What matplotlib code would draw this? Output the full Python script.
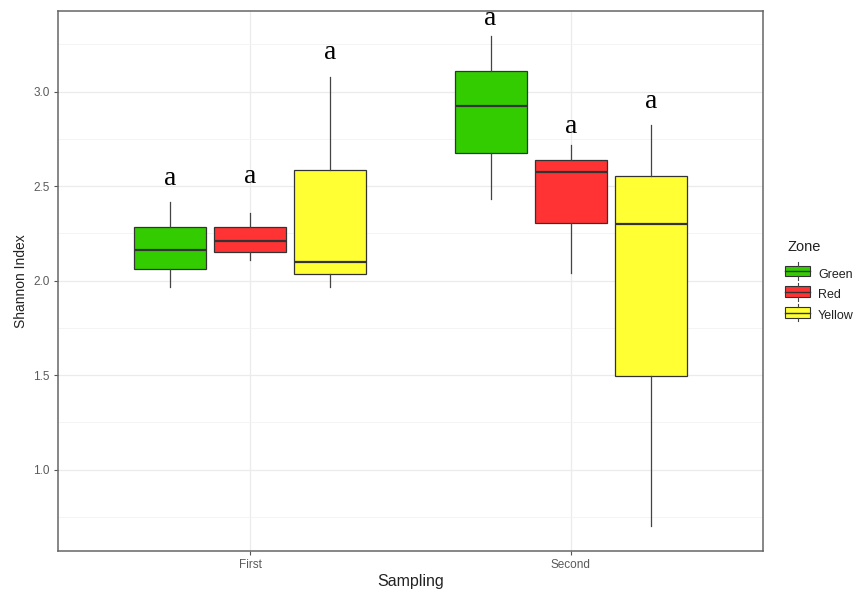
import matplotlib.pyplot as plt
from matplotlib.legend_handler import HandlerBase
from matplotlib.patches import Rectangle
from matplotlib.lines import Line2D

# box statistics read per sampling x zone
samplings = ["First", "Second"]
zones = ["Green", "Red", "Yellow"]
zone_colors = ["#33CC00", "#FF3333", "#FFFF33"]

whislo = [[1.968, 2.110, 1.968], [2.432, 2.039, 0.700]]
q1 = [[2.060, 2.153, 2.035], [2.677, 2.305, 1.496]]
med = [[2.162, 2.212, 2.100], [2.923, 2.575, 2.300]]
q3 = [[2.286, 2.283, 2.586], [3.110, 2.640, 2.556]]
whishi = [[2.415, 2.360, 3.076], [3.295, 2.718, 2.822]]

# significance letters and their heights
letters = [["a", "a", "a"], ["a", "a", "a"]]
letter_y = [[2.543, 2.554, 3.205], [3.385, 2.815, 2.947]]

plt.rcParams['font.family'] = ['Liberation Sans', 'DejaVu Sans']

fig = plt.figure(figsize=(8.64, 5.89), dpi=100)
ax = fig.add_axes([0.0671, 0.0645, 0.8160, 0.9168])

dodge = 0.25
width = 0.225
edge = "#333333"

for i, s in enumerate(samplings):
    for j, z in enumerate(zones):
        pos = i + (j - 1) * dodge
        stats = [{
            "med": med[i][j], "q1": q1[i][j], "q3": q3[i][j],
            "whislo": whislo[i][j], "whishi": whishi[i][j], "fliers": [],
        }]
        ax.bxp(stats, positions=[pos], widths=width, patch_artist=True,
               showcaps=False, manage_ticks=False,
               boxprops=dict(facecolor=zone_colors[j], edgecolor=edge, linewidth=0.9),
               whiskerprops=dict(color="#444444", linewidth=0.9),
               medianprops=dict(color="#333333", linewidth=1.6),
               zorder=3)
        ax.text(pos, letter_y[i][j], letters[i][j], ha="center", va="center",
                fontsize=20, family="Liberation Serif", color="black", zorder=4)

ax.set_xlim(-0.6, 1.6)
ax.set_ylim(0.570, 3.427)
ax.set_xticks(range(len(samplings)))
ax.set_xticklabels(samplings)
ax.set_yticks([1.0, 1.5, 2.0, 2.5, 3.0])
ax.set_yticklabels(["1.0", "1.5", "2.0", "2.5", "3.0"])
ax.set_yticks([0.75, 1.25, 1.75, 2.25, 2.75, 3.25], minor=True)

ax.grid(True, which="major", color="#EBEBEB", linewidth=0.9, zorder=0)
ax.grid(True, which="minor", axis="y", color="#F2F2F2", linewidth=0.6, zorder=0)
ax.set_axisbelow(True)

ax.tick_params(axis="both", which="major", length=3, width=0.8, color="#555555",
               labelsize=8.5, labelcolor="#5a5a5a", pad=3)
ax.tick_params(axis="y", which="minor", length=0)
for sp in ax.spines.values():
    sp.set_color("#666666")
    sp.set_linewidth(1.1)

ax.set_xlabel("Sampling", fontsize=11.5, color="#222222", labelpad=2)
ax.set_ylabel("Shannon Index", fontsize=10, color="#222222", labelpad=4)


class BoxKey(HandlerBase):
    # small boxplot glyph for the legend
    def create_artists(self, legend, orig_handle, xd, yd, w, h, fontsize, trans):
        c = orig_handle.get_facecolor()
        rect = Rectangle((xd, yd), w, h, facecolor=c,
                         edgecolor=edge, linewidth=0.8, transform=trans)
        mid = Line2D([xd, xd + w], [yd + h / 2, yd + h / 2], color=edge,
                     linewidth=1.0, transform=trans)
        top = Line2D([xd + w / 2, xd + w / 2], [yd + h, yd + h * 1.3],
                     color="#444444", linewidth=0.8, transform=trans)
        bot = Line2D([xd + w / 2, xd + w / 2], [yd - h * 0.3, yd],
                     color="#444444", linewidth=0.8, transform=trans)
        return [rect, mid, top, bot]


handles = [Rectangle((0, 0), 1, 1, facecolor=c) for c in zone_colors]
leg = fig.legend(handles, zones, loc="center left",
                 bbox_to_anchor=(0.896, 0.4991), frameon=False,
                 handler_map={Rectangle: BoxKey()}, handlelength=2.0,
                 handleheight=0.95, handletextpad=0.6, labelspacing=0.65,
                 fontsize=9)
for t in leg.get_texts():
    t.set_color("#222222")
fig.text(0.912, 0.5806, "Zone", ha="left", va="center", fontsize=10.5,
         color="#222222")

fig.savefig("out.png", dpi=100)
